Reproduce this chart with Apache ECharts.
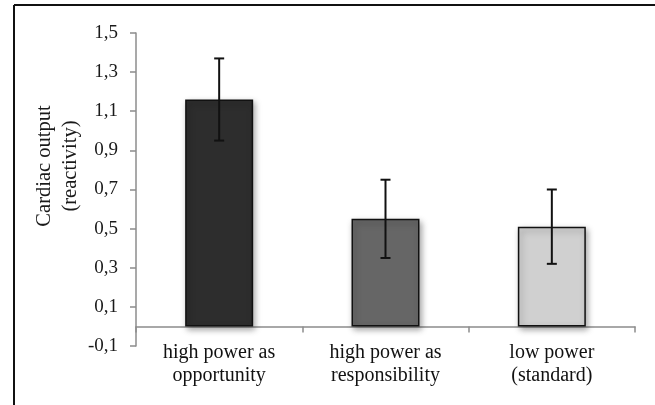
<!DOCTYPE html>
<html>
<head>
<meta charset="utf-8">
<script src="https://cdn.jsdelivr.net/npm/echarts@6/dist/echarts.min.js"></script>
<style>
html,body{margin:0;padding:0;background:#fff;}
#chart{width:655px;height:405px;}
</style>
</head>
<body>
<div id="chart"></div>
<script>
const categories = ['high power as\nopportunity', 'high power as\nresponsibility', 'low power\n(standard)'];
const means = [1.16, 0.55, 0.51];
const errors = [0.21, 0.20, 0.19];
const barColors = ['#2d2d2d', '#666666', '#d0d0d0'];
const yTicks = { min: -0.1, max: 1.5, interval: 0.2 };
const yTitle = 'Cardiac output\n(reactivity)';

const font = 'Liberation Serif';
const chart = echarts.init(document.getElementById('chart'), null, { renderer: 'canvas' });

const errData = means.map((m, i) => [i, m - errors[i], m + errors[i]]);

chart.setOption({
  animation: false,
  backgroundColor: '#fff',
  grid: { left: 136, right: 20, top: 33, bottom: 59, containLabel: false },
  xAxis: {
    type: 'category',
    data: categories,
    axisLine: { onZero: true, lineStyle: { color: '#8c8c8c', width: 1.5 } },
    axisTick: { show: true, length: 6, lineStyle: { color: '#8c8c8c', width: 1.5 } },
    axisLabel: { fontFamily: font, fontSize: 20, color: '#111', lineHeight: 23, margin: -5 }
  },
  yAxis: {
    type: 'value',
    min: yTicks.min,
    max: yTicks.max,
    interval: yTicks.interval,
    splitLine: { show: false },
    axisLine: { show: true, onZero: false, lineStyle: { color: '#8c8c8c', width: 1.5 } },
    axisTick: { show: true, length: 6, lineStyle: { color: '#8c8c8c', width: 1.5 } },
    axisLabel: {
      fontFamily: font, fontSize: 19, color: '#1a1a1a', margin: 18,
      formatter: v => (Math.round(v * 10) / 10).toFixed(1).replace('.', ',')
    }
  },
  series: [
    {
      type: 'bar',
      barWidth: 68,
      data: means.map((m, i) => ({
        value: m,
        itemStyle: {
          color: barColors[i],
          borderColor: '#111',
          borderWidth: 1.5,
          shadowBlur: 6,
          shadowColor: 'rgba(0,0,0,0.35)',
          shadowOffsetX: 2,
          shadowOffsetY: 3
        }
      }))
    },
    {
      type: 'custom',
      data: errData,
      z: 10,
      renderItem: function (params, api) {
        const x = api.value(0);
        const lo = api.coord([x, api.value(1)]);
        const hi = api.coord([x, api.value(2)]);
        const cap = 5;
        const st = { stroke: '#111', lineWidth: 2 };
        return {
          type: 'group',
          children: [
            { type: 'line', shape: { x1: hi[0], y1: hi[1], x2: lo[0], y2: lo[1] }, style: st },
            { type: 'line', shape: { x1: hi[0] - cap, y1: hi[1], x2: hi[0] + cap, y2: hi[1] }, style: st },
            { type: 'line', shape: { x1: lo[0] - cap, y1: lo[1], x2: lo[0] + cap, y2: lo[1] }, style: st }
          ]
        };
      }
    }
  ],
  graphic: [
    { type: 'line', shape: { x1: 14, y1: 5, x2: 655, y2: 5 }, style: { stroke: '#111', lineWidth: 2 } },
    { type: 'line', shape: { x1: 14, y1: 5, x2: 14, y2: 405 }, style: { stroke: '#111', lineWidth: 2 } },
    {
      type: 'text', x: 58, y: 166, rotation: Math.PI / 2,
      style: {
        text: yTitle, fontFamily: font, fontSize: 20.5, fill: '#1a1a1a',
        textAlign: 'center', textVerticalAlign: 'middle', lineHeight: 26
      }
    }
  ]
});
</script>
</body>
</html>
